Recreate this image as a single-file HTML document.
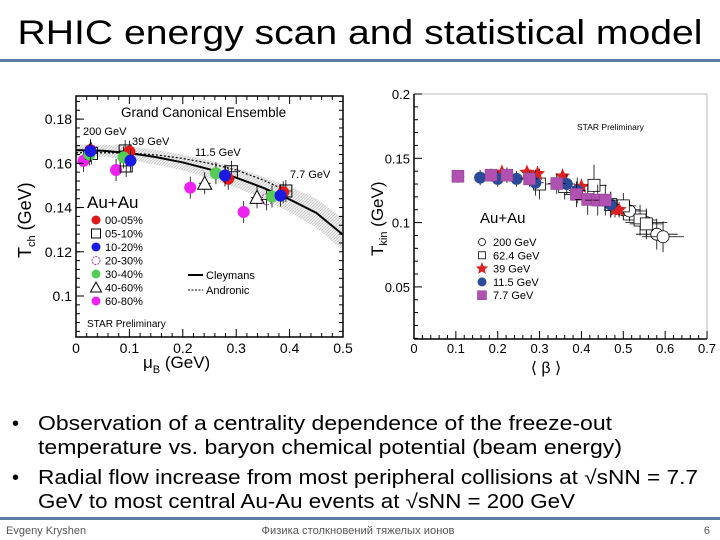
<!DOCTYPE html>
<html><head><meta charset="utf-8"><style>
html,body{margin:0;padding:0;background:#fff;}
svg{display:block;font-family:"Liberation Sans",sans-serif;}
</style></head><body>
<svg id="slide" width="720" height="540" viewBox="0 0 720 540">
<text x="360" y="44" text-anchor="middle" font-size="34" textLength="685" lengthAdjust="spacingAndGlyphs" fill="#000">RHIC energy scan and statistical model</text>
<rect x="0" y="59" width="720" height="3" fill="#5a7fa3"/>
<g id="left"></g>
<g id="right"></g>
<g font-size="20" fill="#000" style="font-weight:500">
<text x="12" y="430">•</text>
<text x="38" y="430" textLength="574" lengthAdjust="spacingAndGlyphs">Observation of a centrality dependence of the freeze-out</text>
<text x="38" y="454" textLength="584" lengthAdjust="spacingAndGlyphs">temperature vs. baryon chemical potential (beam energy)</text>
<text x="12" y="484">•</text>
<text x="38" y="484" textLength="660" lengthAdjust="spacingAndGlyphs">Radial flow increase from most peripheral collisions at √sNN = 7.7</text>
<text x="38" y="508" textLength="537" lengthAdjust="spacingAndGlyphs">GeV to most central Au-Au events at √sNN = 200 GeV</text>
</g>
<rect x="0" y="517" width="720" height="3" fill="#5a7fa3"/>
<text x="6" y="534" font-size="11" fill="#555">Evgeny Kryshen</text>
<text x="358" y="534" font-size="11" fill="#555" text-anchor="middle" textLength="193" lengthAdjust="spacingAndGlyphs" font-family="Liberation Sans, Noto Sans CJK SC, sans-serif">Физика столкновений тяжелых ионов</text>
<text x="710" y="534" font-size="11" fill="#555" text-anchor="end">6</text>
</svg>
<script>
// ---------- LEFT CHART DATA (mu_B [GeV], T_ch [GeV]) ----------
const leftXTicks = [0, 0.1, 0.2, 0.3, 0.4, 0.5];
const leftXTickLabels = ["0", "0.1", "0.2", "0.3", "0.4", "0.5"];
const leftYTicks = [0.1, 0.12, 0.14, 0.16, 0.18];
const leftYTickLabels = ["0.1", "0.12", "0.14", "0.16", "0.18"];
const cent0005Mu = [0.027, 0.100, 0.285, 0.388];
const cent0005T  = [0.166, 0.1653, 0.153, 0.1469];
const cent0510Mu = [0.029, 0.092, 0.094, 0.291, 0.393];
const cent0510T  = [0.1645, 0.1656, 0.1588, 0.1562, 0.1475];
const cent1020Mu = [0.027, 0.102, 0.279, 0.383];
const cent1020T  = [0.1656, 0.1612, 0.1545, 0.1454];
const cent2030Mu = [0.357];
const cent2030T  = [0.1437];
const cent3040Mu = [0.025, 0.089, 0.262, 0.367];
const cent3040T  = [0.164, 0.1627, 0.1555, 0.145];
const cent4060Mu = [0.241, 0.339];
const cent4060T  = [0.151, 0.1446];
const cent6080Mu = [0.014, 0.075, 0.214, 0.314];
const cent6080T  = [0.1611, 0.157, 0.149, 0.138];
const curveMu = [0, 0.05, 0.1, 0.15, 0.2, 0.25, 0.3, 0.35, 0.4, 0.45, 0.5];
const cleymansT = [0.166, 0.1657, 0.1646, 0.1628, 0.1604, 0.1573, 0.1535, 0.149, 0.1437, 0.1376, 0.1277];
const andronicT = [0.1648, 0.1648, 0.1646, 0.1638, 0.1622, 0.160, 0.157, 0.1525, 0.147];
const bandUpper = [0.1685, 0.1684, 0.1676, 0.1661, 0.164, 0.1613, 0.158, 0.154, 0.1495, 0.144, 0.135];
const bandLower = [0.1635, 0.163, 0.1616, 0.1595, 0.1568, 0.1533, 0.149, 0.144, 0.1379, 0.131, 0.1205];

// ---------- RIGHT CHART DATA (<beta>, T_kin [GeV]) ----------
const rightXTicks = [0, 0.1, 0.2, 0.3, 0.4, 0.5, 0.6, 0.7];
const rightXTickLabels = ["0", "0.1", "0.2", "0.3", "0.4", "0.5", "0.6", "0.7"];
const rightYTicks = [0.05, 0.1, 0.15, 0.2];
const rightYTickLabels = ["0.05", "0.1", "0.15", "0.2"];
const e200Beta = [0.5, 0.515, 0.555, 0.58, 0.595];
const e200T    = [0.110, 0.109, 0.100, 0.091, 0.089];
const e200Ex   = [0.04, 0.04, 0.05, 0.05, 0.05];
const e200Ey   = [0.008, 0.008, 0.01, 0.012, 0.012];
const e624Beta = [0.30, 0.36, 0.43, 0.47, 0.50, 0.54, 0.555];
const e624T    = [0.130, 0.128, 0.129, 0.114, 0.113, 0.102, 0.099];
const e624Ex   = [0.03, 0.03, 0.03, 0.03, 0.03, 0.04, 0.04];
const e624Ey   = [0.012, 0.01, 0.016, 0.01, 0.01, 0.012, 0.012];
const e39Beta = [0.21, 0.27, 0.295, 0.355, 0.40, 0.48, 0.49];
const e39T    = [0.139, 0.139, 0.138, 0.136, 0.128, 0.110, 0.110];
const e39Ex   = [0.012, 0.012, 0.012, 0.012, 0.012, 0.012, 0.012];
const e39Ey   = [0.005, 0.005, 0.006, 0.006, 0.006, 0.006, 0.006];
const e115Beta = [0.158, 0.20, 0.245, 0.29, 0.365, 0.39, 0.47];
const e115T    = [0.135, 0.134, 0.134, 0.131, 0.130, 0.125, 0.114];
const e115Ex   = [0.015, 0.015, 0.015, 0.02, 0.02, 0.02, 0.02];
const e115Ey   = [0.006, 0.006, 0.006, 0.01, 0.008, 0.01, 0.01];
const e77Beta = [0.105, 0.184, 0.222, 0.276, 0.341, 0.388, 0.415, 0.439, 0.457];
const e77T    = [0.136, 0.1369, 0.1369, 0.134, 0.1304, 0.122, 0.118, 0.1175, 0.1175];
const e77Ex   = [0.015, 0.015, 0.015, 0.02, 0.02, 0.03, 0.03, 0.03, 0.03];
const e77Ey   = [0.005, 0.005, 0.006, 0.006, 0.008, 0.01, 0.012, 0.012, 0.012];

const NS = "http://www.w3.org/2000/svg";
function mk(parent, tag, attrs, text) {
  const e = document.createElementNS(NS, tag);
  for (const k in attrs) e.setAttribute(k, attrs[k]);
  if (text !== undefined) e.textContent = text;
  parent.appendChild(e);
  return e;
}

// ---------- LEFT ----------
const L = document.getElementById('left');
const lx = v => 76 + v / 0.5 * 267;
const ly = v => 296 - (v - 0.1) * 2211;
let el;
let bandPts = curveMu.map((m, i) => lx(m) + ',' + ly(bandUpper[i]));
bandPts = bandPts.concat(curveMu.slice().reverse().map((m, j) => { const i = curveMu.length - 1 - j; return lx(m) + ',' + ly(bandLower[i]); }));
const defs = mk(L, 'defs', {});
const pat = mk(defs, 'pattern', {id: 'hatch', width: 3, height: 3, patternUnits: 'userSpaceOnUse'});
mk(pat, 'rect', {width: 3, height: 3, fill: '#eeeeee'});
mk(pat, 'path', {d: 'M0,3 L3,0', stroke: '#b8b8b8', 'stroke-width': 0.6});
el = mk(L, 'polygon', {points: bandPts.join(' '), fill: 'url(#hatch)'});


el = mk(L, 'polyline', {points: curveMu.map((m, i) => lx(m) + ',' + ly(cleymansT[i])).join(' '), fill: 'none', stroke: '#000', 'stroke-width': 2});


el = mk(L, 'polyline', {points: andronicT.map((t, i) => lx(curveMu[i]) + ',' + ly(t)).join(' '), fill: 'none', stroke: '#000', 'stroke-width': 1.2, 'stroke-dasharray': '2,2'});



function leftMarker(g, type, cx, cy, r) {
  let m;
  if (type === 'red') m = mk(g, 'circle', {cx, cy, r, fill: '#e01818'});
  else if (type === 'osq') m = mk(g, 'rect', {x: cx - r, y: cy - r, width: 2 * r, height: 2 * r, fill: 'none', stroke: '#000', 'stroke-width': 1});
  else if (type === 'blue') m = mk(g, 'circle', {cx, cy, r, fill: '#1a1ae0'});
  else if (type === 'ocirc') m = mk(g, 'circle', {cx, cy, r: r - 0.5, fill: 'none', stroke: '#a040a0', 'stroke-width': 1, 'stroke-dasharray': '2,1'});
  else if (type === 'green') m = mk(g, 'circle', {cx, cy, r, fill: '#55cc55'});
  else if (type === 'tri') m = mk(g, 'polygon', {points: `${cx},${cy - r - 1} ${cx - r - 1},${cy + r} ${cx + r + 1},${cy + r}`, fill: '#fff', stroke: '#000', 'stroke-width': 1});
  else m = mk(g, 'circle', {cx, cy, r, fill: '#ee22ee'});
  return m;
}
const leftSeries = [
  ['cent-60-80', 'mag', cent6080Mu, cent6080T],
  ['cent-40-60', 'tri', cent4060Mu, cent4060T],
  ['cent-20-30', 'ocirc', cent2030Mu, cent2030T],
  ['cent-05-10', 'osq', cent0510Mu, cent0510T],
  ['cent-00-05', 'red', cent0005Mu, cent0005T],
  ['cent-30-40', 'green', cent3040Mu, cent3040T],
  ['cent-10-20', 'blue', cent1020Mu, cent1020T]
];
leftSeries.forEach(s => {
  const g = mk(L, 'g', {});
  
  
  s[2].forEach((m, i) => {
    const cx = lx(m), cy = ly(s[3][i]);
    mk(g, 'line', {x1: cx, x2: cx, y1: cy - 11, y2: cy + 11, stroke: '#000', 'stroke-width': 0.8});
    mk(g, 'line', {x1: cx - 6, x2: cx + 6, y1: cy, y2: cy, stroke: '#000', 'stroke-width': 0.8});
    const p = leftMarker(g, s[1], cx, cy, 6);
    
    
  });
});
el = mk(L, 'rect', {x: 76, y: 96, width: 267, height: 241, fill: 'none', stroke: '#000', 'stroke-width': 1.5});


for (let v = 0; v <= 0.5001; v += 0.02) {
  const major = Math.abs(v * 10 - Math.round(v * 10)) < 1e-6;
  mk(L, 'line', {x1: lx(v), x2: lx(v), y1: 337, y2: 337 - (major ? 8 : 4), stroke: '#000'});
  mk(L, 'line', {x1: lx(v), x2: lx(v), y1: 96, y2: 96 + (major ? 8 : 4), stroke: '#000'});
}
for (let v = 0.084; v <= 0.19; v += 0.004) {
  mk(L, 'line', {x1: 76, x2: 80, y1: ly(v), y2: ly(v), stroke: '#000'});
  mk(L, 'line', {x1: 343, x2: 339, y1: ly(v), y2: ly(v), stroke: '#000'});
}
leftYTicks.forEach((v, i) => {
  mk(L, 'line', {x1: 76, x2: 84, y1: ly(v), y2: ly(v), stroke: '#000'});
  el = mk(L, 'text', {x: 72, y: ly(v) + 5, 'text-anchor': 'end', 'font-size': 14}, leftYTickLabels[i]);
  
  
});
leftXTicks.forEach((v, i) => {
  el = mk(L, 'text', {x: lx(v), y: 353, 'text-anchor': 'middle', 'font-size': 14}, leftXTickLabels[i]);
  
  
});
el = mk(L, 'text', {x: 0, y: 0, 'font-size': 18, transform: 'translate(31,258) rotate(-90)'}, 'T');


mk(el, 'tspan', {'font-size': 11, dy: 4}, 'ch');
mk(el, 'tspan', {dy: -4}, ' (GeV)');
el = mk(L, 'text', {x: 143, y: 368, 'font-size': 17}, 'μ');


mk(el, 'tspan', {'font-size': 11, dy: 5}, 'B');
mk(el, 'tspan', {dy: -5}, ' (GeV)');
const leftLabels = [
  ['Grand Canonical Ensemble', 121, 117, 13.5, 'title-annotation'],
  ['200 GeV', 83, 135, 11, 'label-200gev'],
  ['39 GeV', 132, 145, 11, 'label-39gev'],
  ['11.5 GeV', 195, 156, 11, 'label-11-5gev'],
  ['7.7 GeV', 290, 178, 11, 'label-7-7gev'],
  ['Au+Au', 87, 208, 17, 'label-au-au'],
  ['STAR Preliminary', 87, 327, 10, 'star-preliminary']
];
leftLabels.forEach(a => {
  el = mk(L, 'text', {x: a[1], y: a[2], 'font-size': a[3]}, a[0]);
  
  
});
const leftLegend = [['red', '00-05%'], ['osq', '05-10%'], ['blue', '10-20%'], ['ocirc', '20-30%'], ['green', '30-40%'], ['tri', '40-60%'], ['mag', '60-80%']];
leftLegend.forEach((e, i) => {
  const y = 220 + i * 13.5;
  const g = mk(L, 'g', {});
  
  
  leftMarker(g, e[0], 96, y, 4.5);
  mk(g, 'text', {x: 105, y: y + 4, 'font-size': 11}, e[1]);
});
let g2 = mk(L, 'g', {});


mk(g2, 'line', {x1: 188, x2: 203, y1: 275, y2: 275, stroke: '#000', 'stroke-width': 2});
mk(g2, 'text', {x: 206, y: 279, 'font-size': 11}, 'Cleymans');
g2 = mk(L, 'g', {});


mk(g2, 'line', {x1: 188, x2: 203, y1: 290, y2: 290, stroke: '#000', 'stroke-width': 1, 'stroke-dasharray': '2,1.5'});
mk(g2, 'text', {x: 206, y: 294, 'font-size': 11}, 'Andronic');

// ---------- RIGHT ----------
const R = document.getElementById('right');
const rx = v => 414 + v * 418.6;
const ry = v => 94 + (0.2 - v) * 1286;
mk(R, 'line', {x1: 414, x2: 707, y1: 94, y2: 94, stroke: '#bbb'});
mk(R, 'line', {x1: 707, x2: 707, y1: 94, y2: 339, stroke: '#bbb'});
mk(R, 'line', {x1: 414, x2: 414, y1: 94, y2: 339, stroke: '#000', 'stroke-width': 1.5});
mk(R, 'line', {x1: 414, x2: 707, y1: 339, y2: 339, stroke: '#000', 'stroke-width': 1.5});
for (let v = 0; v <= 0.7001; v += 0.02) {
  const major = Math.abs(v * 10 - Math.round(v * 10)) < 1e-6;
  mk(R, 'line', {x1: rx(v), x2: rx(v), y1: 339, y2: 339 - (major ? 8 : 4), stroke: '#000'});
}
for (let v = 0.01; v <= 0.2001; v += 0.01) {
  const major = Math.abs(v * 20 - Math.round(v * 20)) < 1e-6;
  mk(R, 'line', {x1: 414, x2: 414 + (major ? 8 : 4), y1: ry(v), y2: ry(v), stroke: '#000'});
}
rightYTicks.forEach((v, i) => {
  el = mk(R, 'text', {x: 410, y: ry(v) + 5, 'text-anchor': 'end', 'font-size': 13}, rightYTickLabels[i]);
  
  
});
rightXTicks.forEach((v, i) => {
  el = mk(R, 'text', {x: rx(v), y: 353, 'text-anchor': 'middle', 'font-size': 13}, rightXTickLabels[i]);
  
  
});
el = mk(R, 'text', {x: 0, y: 0, 'font-size': 17, transform: 'translate(383,256) rotate(-90)'}, 'T');


mk(el, 'tspan', {'font-size': 11, dy: 4}, 'kin');
mk(el, 'tspan', {dy: -4}, ' (GeV)');
el = mk(R, 'text', {x: 546, y: 373, 'text-anchor': 'middle', 'font-size': 16}, '⟨ β ⟩');


el = mk(R, 'text', {x: 577, y: 130, 'font-size': 8.5}, 'STAR Preliminary');


el = mk(R, 'text', {x: 480, y: 223, 'font-size': 15}, 'Au+Au');



function star(cx, cy, r) {
  let p = [];
  for (let k = 0; k < 10; k++) {
    const a = -Math.PI / 2 + k * Math.PI / 5, rr = k % 2 ? r * 0.45 : r;
    p.push((cx + rr * Math.cos(a)).toFixed(1) + ',' + (cy + rr * Math.sin(a)).toFixed(1));
  }
  return p.join(' ');
}
function rightMarker(g, type, cx, cy, r) {
  if (type === 'oc') return mk(g, 'circle', {cx, cy, r, fill: '#fff', stroke: '#000', 'stroke-width': 0.8});
  if (type === 'os') return mk(g, 'rect', {x: cx - r, y: cy - r, width: 2 * r, height: 2 * r, fill: '#fff', stroke: '#000', 'stroke-width': 0.8});
  if (type === 'st') return mk(g, 'polygon', {points: star(cx, cy, r + 2), fill: '#e02020'});
  if (type === 'bc') return mk(g, 'circle', {cx, cy, r, fill: '#2a4a9a'});
  return mk(g, 'rect', {x: cx - r, y: cy - r, width: 2 * r, height: 2 * r, fill: '#b050b0', stroke: '#804080', 'stroke-width': 0.5});
}
const rightSeries = [
  ['200gev', 'oc', e200Beta, e200T, e200Ex, e200Ey],
  ['62-4gev', 'os', e624Beta, e624T, e624Ex, e624Ey],
  ['39gev', 'st', e39Beta, e39T, e39Ex, e39Ey],
  ['11-5gev', 'bc', e115Beta, e115T, e115Ex, e115Ey],
  ['7-7gev', 'sq', e77Beta, e77T, e77Ex, e77Ey]
];
rightSeries.forEach(s => {
  const g = mk(R, 'g', {});
  
  
  s[2].forEach((b, i) => {
    const cx = rx(b), cy = ry(s[3][i]);
    const dx = s[4][i] * 418.6, dy = s[5][i] * 1286;
    mk(g, 'line', {x1: cx - dx, x2: cx + dx, y1: cy, y2: cy, stroke: '#000', 'stroke-width': 0.8});
    mk(g, 'line', {x1: cx, x2: cx, y1: cy - dy, y2: cy + dy, stroke: '#000', 'stroke-width': 0.8});
    const p = rightMarker(g, s[1], cx, cy, 6);
    
    
  });
});
const rightLegend = [['oc', '200 GeV'], ['os', '62.4 GeV'], ['st', '39 GeV'], ['bc', '11.5 GeV'], ['sq', '7.7 GeV']];
rightLegend.forEach((e, i) => {
  const y = 242 + i * 13.3;
  const g = mk(R, 'g', {});
  
  
  rightMarker(g, e[0], 482, y, e[0] === 'oc' || e[0] === 'os' ? 3.5 : 4.5);
  mk(g, 'text', {x: 493, y: y + 4, 'font-size': 11}, e[1]);
});
</script>
</body></html>
